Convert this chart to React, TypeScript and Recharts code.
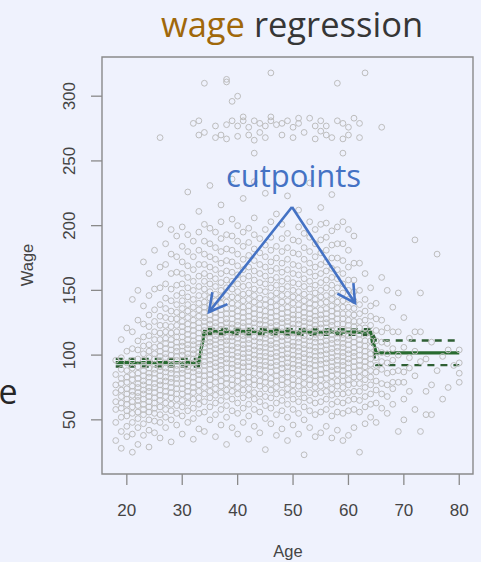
import React from 'react';
import { ComposedChart, Scatter, Line, XAxis, YAxis, ReferenceArea } from 'recharts';

const xTicks = [20, 30, 40, 50, 60, 70, 80];
const yTicks = [50, 100, 150, 200, 250, 300];
const ageDomain: [number, number] = [15.52, 82.48];
const wageDomain: [number, number] = [8.16, 330.27];

const firstAge = 18;
// wages observed in each integer age column, age 18 .. 80
const wageColumns: number[][] = [
  [34, 48, 58, 64, 71, 77, 85, 96],
  [28, 41, 52, 59, 63, 68, 73, 78, 82, 89, 98, 112],
  [37, 45, 53, 57, 62, 66, 70, 74, 79, 83, 88, 94, 103, 121],
  [25, 39, 48, 55, 60, 64, 69, 72, 76, 81, 85, 90, 96, 105, 118, 143],
  [31, 44, 51, 56, 61, 65, 68, 71, 75, 78, 82, 86, 91, 97, 104, 111, 127, 150],
  [38, 47, 54, 58, 62, 66, 70, 73, 77, 80, 84, 88, 92, 96, 101, 107, 114, 124, 138, 172],
  [29, 42, 50, 56, 60, 64, 68, 72, 75, 79, 83, 86, 90, 94, 98, 103, 108, 115, 122, 131, 146, 163],
  [40, 49, 55, 59, 63, 67, 71, 75, 78, 82, 86, 89, 93, 97, 101, 106, 112, 118, 126, 135, 151, 181],
  [36, 48, 54, 60, 65, 69, 73, 77, 80, 84, 88, 91, 95, 99, 103, 107, 112, 117, 123, 130, 139, 152, 168, 201],
  [44, 52, 58, 63, 68, 72, 76, 80, 83, 87, 90, 94, 98, 101, 105, 109, 113, 118, 123, 129, 136, 144, 155, 170, 186],
  [33, 50, 57, 62, 67, 71, 75, 79, 82, 86, 89, 93, 96, 100, 104, 108, 112, 117, 122, 128, 134, 142, 151, 163, 178, 197],
  [46, 55, 61, 66, 70, 74, 78, 82, 85, 89, 92, 96, 99, 103, 106, 110, 114, 118, 123, 128, 133, 139, 146, 154, 164, 176, 192],
  [39, 53, 60, 65, 70, 74, 78, 82, 86, 89, 93, 96, 100, 103, 107, 110, 114, 118, 122, 126, 131, 136, 142, 148, 155, 163, 172, 184, 199],
  [48, 57, 63, 68, 72, 76, 80, 84, 88, 91, 94, 98, 101, 105, 108, 112, 116, 120, 124, 129, 134, 139, 145, 152, 160, 169, 180, 193, 226],
  [35, 51, 59, 66, 71, 75, 79, 83, 87, 90, 94, 97, 101, 104, 108, 111, 115, 119, 123, 127, 132, 137, 143, 150, 157, 166, 176, 188],
  [43, 55, 62, 67, 72, 77, 81, 85, 88, 92, 95, 99, 102, 106, 109, 113, 117, 121, 125, 130, 135, 140, 146, 153, 161, 170, 181, 195, 211],
  [41, 56, 64, 70, 75, 80, 84, 88, 92, 95, 99, 102, 106, 109, 112, 116, 119, 122, 126, 129, 133, 137, 141, 146, 151, 157, 163, 170, 178, 188, 201],
  [50, 60, 67, 72, 77, 81, 85, 89, 93, 96, 100, 103, 107, 110, 113, 117, 120, 124, 127, 131, 135, 139, 144, 149, 155, 161, 168, 176, 186, 198, 231],
  [37, 54, 63, 69, 74, 79, 83, 87, 91, 94, 98, 101, 105, 108, 112, 115, 118, 122, 125, 129, 133, 138, 142, 147, 153, 159, 166, 174, 183, 195],
  [46, 58, 65, 71, 76, 80, 85, 89, 92, 96, 99, 103, 106, 110, 113, 116, 120, 123, 127, 131, 135, 140, 145, 150, 156, 163, 171, 180, 190, 203, 216],
  [31, 52, 61, 68, 73, 78, 82, 86, 90, 94, 97, 101, 104, 108, 111, 114, 118, 121, 125, 128, 132, 136, 141, 146, 152, 158, 165, 173, 182, 193],
  [44, 57, 66, 72, 77, 81, 86, 90, 93, 97, 100, 104, 107, 111, 114, 117, 121, 124, 128, 132, 136, 140, 145, 151, 157, 164, 172, 181, 192, 205, 236],
  [39, 55, 63, 70, 75, 80, 84, 88, 92, 95, 99, 102, 106, 109, 113, 116, 119, 123, 126, 130, 134, 139, 144, 149, 155, 162, 169, 178, 188, 200],
  [48, 59, 67, 73, 78, 82, 87, 91, 94, 98, 101, 105, 108, 112, 115, 118, 122, 125, 129, 133, 137, 142, 147, 153, 159, 166, 174, 184, 195, 221],
  [35, 53, 62, 69, 74, 79, 83, 87, 91, 95, 98, 102, 105, 109, 112, 116, 119, 122, 126, 130, 134, 138, 143, 148, 154, 161, 168, 177, 187, 198],
  [45, 58, 66, 71, 77, 81, 86, 90, 93, 97, 100, 104, 107, 111, 114, 118, 121, 125, 128, 132, 136, 141, 146, 151, 158, 165, 173, 182, 193, 206, 234],
  [40, 56, 64, 70, 76, 80, 85, 89, 92, 96, 99, 103, 106, 110, 113, 117, 120, 124, 127, 131, 135, 139, 144, 150, 156, 163, 170, 179, 190],
  [27, 51, 61, 68, 74, 79, 83, 88, 92, 95, 99, 102, 106, 109, 113, 116, 120, 123, 127, 130, 134, 139, 143, 149, 155, 161, 168, 176, 185, 197, 225],
  [47, 59, 67, 73, 78, 82, 87, 91, 94, 98, 101, 105, 108, 111, 115, 118, 122, 125, 129, 133, 137, 141, 146, 152, 158, 165, 172, 181, 191, 203],
  [38, 54, 63, 70, 75, 80, 84, 88, 92, 95, 99, 102, 106, 109, 113, 116, 119, 123, 126, 130, 134, 138, 143, 148, 154, 160, 167, 175, 184, 209],
  [43, 57, 65, 71, 77, 81, 86, 90, 93, 97, 100, 104, 107, 111, 114, 118, 121, 125, 128, 132, 136, 141, 146, 151, 157, 164, 171, 180, 190, 201],
  [34, 52, 62, 69, 74, 79, 83, 87, 91, 94, 98, 101, 105, 108, 112, 115, 119, 122, 126, 129, 133, 137, 142, 147, 153, 159, 166, 174, 183, 194, 223],
  [46, 58, 66, 72, 77, 81, 86, 90, 93, 97, 100, 104, 107, 110, 114, 117, 121, 124, 128, 131, 135, 140, 145, 150, 156, 163, 170, 179, 189],
  [39, 55, 64, 70, 76, 80, 85, 89, 92, 96, 99, 103, 106, 110, 113, 117, 120, 124, 127, 131, 135, 139, 144, 149, 155, 162, 169, 178, 188, 199, 212],
  [23, 50, 60, 67, 73, 78, 83, 87, 91, 94, 98, 101, 105, 108, 112, 115, 119, 122, 126, 129, 133, 137, 142, 147, 153, 159, 166, 174, 183, 194],
  [44, 57, 65, 71, 77, 81, 86, 90, 93, 97, 100, 104, 107, 111, 114, 118, 121, 125, 128, 132, 136, 140, 145, 151, 157, 164, 171, 180, 191, 203, 233],
  [37, 54, 63, 70, 75, 80, 84, 88, 92, 96, 99, 103, 106, 110, 113, 116, 120, 123, 127, 130, 134, 139, 143, 148, 154, 161, 168, 176, 186, 197],
  [40, 56, 64, 71, 76, 81, 85, 89, 93, 96, 100, 103, 107, 110, 114, 117, 121, 124, 128, 131, 135, 140, 145, 150, 156, 163, 170, 179, 189, 201, 214],
  [45, 58, 66, 72, 77, 82, 86, 90, 94, 97, 101, 104, 108, 111, 115, 118, 121, 125, 128, 132, 136, 141, 146, 152, 158, 165, 172, 181, 191, 202],
  [36, 53, 62, 69, 74, 79, 84, 88, 91, 95, 98, 102, 105, 109, 112, 116, 119, 123, 126, 130, 134, 138, 143, 148, 154, 160, 167, 175, 185, 196, 224],
  [42, 56, 64, 70, 76, 80, 85, 89, 92, 96, 99, 103, 106, 110, 113, 117, 120, 124, 128, 132, 136, 141, 146, 152, 159, 166, 175, 186, 199],
  [34, 55, 63, 70, 75, 80, 84, 88, 92, 95, 99, 102, 106, 109, 113, 116, 120, 124, 128, 132, 137, 142, 148, 155, 163, 173, 186, 203],
  [38, 57, 65, 71, 77, 81, 86, 90, 94, 97, 101, 104, 108, 112, 115, 119, 123, 127, 132, 137, 143, 150, 158, 168, 181, 197],
  [44, 58, 66, 72, 78, 83, 87, 91, 95, 99, 102, 106, 110, 114, 118, 122, 126, 131, 136, 142, 149, 158, 171, 192],
  [25, 56, 65, 72, 78, 83, 88, 92, 96, 100, 104, 108, 112, 116, 121, 126, 132, 139, 150, 171],
  [47, 60, 68, 75, 81, 86, 91, 95, 99, 103, 107, 111, 116, 121, 127, 134, 143, 163],
  [52, 62, 70, 77, 83, 88, 93, 97, 101, 106, 111, 117, 123, 130, 138, 152],
  [48, 63, 73, 80, 87, 92, 98, 104, 111, 119, 128, 140],
  [59, 70, 78, 89, 95, 102, 110, 118, 127, 160],
  [55, 68, 77, 86, 94, 101, 109, 121, 150],
  [62, 74, 79, 87, 96, 105, 118, 137],
  [41, 79, 88, 100, 118, 148],
  [50, 66, 79, 87, 106, 129],
  [72, 90, 98, 113],
  [58, 84, 103, 118, 189],
  [41, 95, 118, 148],
  [54, 72, 97],
  [54, 77, 110],
  [88, 178],
  [66, 99],
  [75, 104],
  [92],
  [79, 86, 94, 104],
];

// the separate band of high earners near the top of the plot
const topEarners: [number, number][] = [
  [26, 268], [32, 279], [33, 270], [33, 281], [34, 310], [34, 272], [36, 277], [36, 268],
  [37, 270], [38, 313], [38, 311], [38, 278], [38, 267], [39, 296], [39, 281], [40, 300],
  [40, 277], [40, 269], [41, 281], [41, 284], [42, 276], [42, 270], [43, 281], [43, 266],
  [43, 256], [44, 279], [44, 272], [45, 277], [45, 268], [46, 318], [46, 281], [46, 284],
  [47, 278], [48, 279], [48, 270], [49, 281], [50, 276], [50, 268], [51, 279], [51, 283],
  [52, 272], [53, 283], [54, 277], [54, 267], [55, 281], [55, 273], [56, 277], [56, 270],
  [57, 268], [58, 281], [58, 310], [59, 267], [59, 279], [59, 256], [60, 276], [60, 270],
  [61, 283], [62, 279], [62, 268], [63, 318], [66, 276],
];

// step-function fit evaluated on the age grid (ends of each constant piece)
const stepAges = [18, 33, 34, 49, 50, 64, 65, 80];
const stepFit = [94.16, 94.16, 118.21, 118.21, 117.82, 117.82, 101.8, 101.8];
const stepUpper = [97.11, 97.11, 120.3, 120.3, 120.0, 120.0, 111.3, 111.3];
const stepLower = [91.21, 91.21, 116.1, 116.1, 115.6, 115.6, 92.3, 92.3];

const scatterData = [
  ...wageColumns.flatMap((col, i) => col.map((w) => ({ age: firstAge + i, wage: w }))),
  ...topEarners.map(([a, w]) => ({ age: a, wage: w })),
];
const lineData = stepAges.map((a, i) => ({ age: a, fit: stepFit[i], upper: stepUpper[i], lower: stepLower[i] }));

const AXIS_FONT = "'Liberation Sans', Arial, Helvetica, sans-serif";
const SLIDE_FONT = "'Open Sans', 'Noto Sans', sans-serif";
const GRAY = '#8a8a8a';
const TICK_TEXT = '#444444';

const YTick = (props: any) => {
  const { x, y, payload } = props;
  const bx = x - 16;
  return (
    <text x={bx} y={y} transform={`rotate(-90 ${bx} ${y})`} textAnchor="middle" fontFamily={AXIS_FONT} fontSize={17} fill={TICK_TEXT}>
      {payload.value}
    </text>
  );
};

const XTick = (props: any) => {
  const { x, y, payload } = props;
  return (
    <text x={x} y={y + 31} textAnchor="middle" fontFamily={AXIS_FONT} fontSize={17} fill={TICK_TEXT}>
      {payload.value}
    </text>
  );
};

const Ring = (props: any) => {
  const { cx, cy } = props;
  if (cx == null || cy == null) return null;
  return <circle cx={cx} cy={cy} r={2.9} fill="none" stroke="#bdbdbd" strokeWidth={1} />;
};

const arrowHead = (ax: number, ay: number, tx: number, ty: number, len = 20, ang = 0.5) => {
  const dx = tx - ax;
  const dy = ty - ay;
  const d = Math.hypot(dx, dy);
  const ux = dx / d;
  const uy = dy / d;
  const rot = (a: number) => [ux * Math.cos(a) - uy * Math.sin(a), ux * Math.sin(a) + uy * Math.cos(a)];
  const [p1x, p1y] = rot(ang);
  const [p2x, p2y] = rot(-ang);
  return `M ${tx - len * p1x} ${ty - len * p1y} L ${tx} ${ty} L ${tx - len * p2x} ${ty - len * p2y}`;
};

export default function App() {
  const apex = { x: 292, y: 207 };
  const leftTip = { x: 209, y: 312 };
  const rightTip = { x: 355, y: 303 };
  const blue = '#4472c4';
  return (
    <div style={{ position: 'absolute', left: 0, top: 0, width: 481, height: 562, background: '#eff2fd', overflow: 'hidden' }}>
      <ComposedChart width={481} height={562} margin={{ top: 57, right: 8, bottom: 0, left: 0 }}>
        <XAxis
          dataKey="age"
          type="number"
          domain={ageDomain}
          allowDataOverflow
          ticks={xTicks}
          height={88}
          axisLine={false}
          tickSize={11}
          tickMargin={0}
          tickLine={{ stroke: GRAY, strokeWidth: 1.3 }}
          tick={<XTick />}
        />
        <YAxis
          type="number"
          domain={wageDomain}
          allowDataOverflow
          ticks={yTicks}
          width={102}
          axisLine={false}
          tickSize={11}
          tickMargin={0}
          tickLine={{ stroke: GRAY, strokeWidth: 1.3 }}
          tick={<YTick />}
        />
        <ReferenceArea x1={ageDomain[0]} x2={ageDomain[1]} y1={wageDomain[0]} y2={wageDomain[1]} fill="none" fillOpacity={0} stroke={GRAY} strokeWidth={1.4} />
        <Scatter data={scatterData} dataKey="wage" shape={<Ring />} isAnimationActive={false} />
        <Line data={lineData} dataKey="upper" type="linear" stroke="#2f5f34" strokeWidth={2.3} strokeDasharray="7 6" dot={false} isAnimationActive={false} />
        <Line data={lineData} dataKey="lower" type="linear" stroke="#2f5f34" strokeWidth={2.3} strokeDasharray="7 6" dot={false} isAnimationActive={false} />
        <Line data={lineData} dataKey="fit" type="linear" stroke="#286b30" strokeWidth={3.2} dot={false} isAnimationActive={false} />
      </ComposedChart>
      <svg width={481} height={562} style={{ position: 'absolute', left: 0, top: 0, pointerEvents: 'none' }}>
        <text x={292} y={37} textAnchor="middle" fontFamily={SLIDE_FONT} fontSize={34.5}>
          <tspan fill="#a0680a">wage</tspan>
          <tspan fill="#363636"> regression</tspan>
        </text>
        <text x={-1.5} y={404} fontFamily={SLIDE_FONT} fontSize={34} fill="#262626">e</text>
        <text x={293.5} y={187} textAnchor="middle" fontFamily={SLIDE_FONT} fontSize={31} fill={blue}>cutpoints</text>
        <path d={`M ${apex.x} ${apex.y} L ${leftTip.x} ${leftTip.y} M ${apex.x} ${apex.y} L ${rightTip.x} ${rightTip.y}`} stroke={blue} strokeWidth={2.6} fill="none" />
        <path d={arrowHead(apex.x, apex.y, leftTip.x, leftTip.y)} stroke={blue} strokeWidth={2.6} fill="none" strokeLinejoin="miter" />
        <path d={arrowHead(apex.x, apex.y, rightTip.x, rightTip.y)} stroke={blue} strokeWidth={2.6} fill="none" strokeLinejoin="miter" />
        <text x={288} y={557} textAnchor="middle" fontFamily={AXIS_FONT} fontSize={16.5} fill={TICK_TEXT}>Age</text>
        <text x={33} y={265} transform="rotate(-90 33 265)" textAnchor="middle" fontFamily={AXIS_FONT} fontSize={16.5} fill={TICK_TEXT}>Wage</text>
      </svg>
    </div>
  );
}
